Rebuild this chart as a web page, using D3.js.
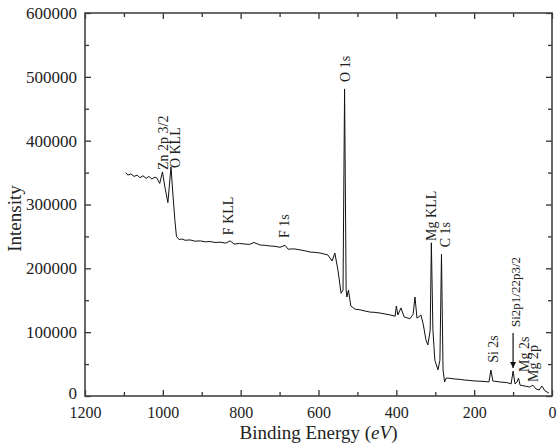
<!DOCTYPE html>
<html>
<head>
<meta charset="utf-8">
<script src="https://cdn.jsdelivr.net/npm/d3@7"></script>
<style>
  body { margin: 0; background: #fff; }
  svg text { font-family: "Liberation Serif", "Times New Roman", serif; fill: #222; }
</style>
</head>
<body>
<script>
// chart size
var w = 557;
var h = 447;
var margin = {top: 13, right: 5, bottom: 51, left: 85};

// spectrum (binding energy in eV, counts)
var energy = [1095, 1090, 1082, 1074, 1066, 1059, 1051, 1043, 1036, 1028, 1020, 1015, 1008, 1001, 994, 987, 979, 974, 969, 965,
  958, 951, 943, 930, 917, 904, 891, 879, 866, 853, 838, 827, 817, 803, 789, 777, 766, 750, 737, 725, 712, 699, 686, 678,
  663, 648, 635, 622, 609, 596, 576, 565, 558, 550, 542, 537, 533, 529, 527, 523, 517, 506, 493, 480, 468, 455, 442, 429,
  416, 403, 400, 396, 388, 380, 365, 357, 352, 347, 342, 337, 331, 324, 319, 313, 310, 306, 301, 293, 288, 284, 280, 276,
  272, 267, 249, 236, 224, 211, 198, 185, 172, 162, 157, 152, 134, 116, 105, 100, 95, 90, 86, 82, 69, 57, 49, 41, 33, 26, 18, 8];
var intensity = [350000, 346000, 348000, 344000, 346000, 342000, 345000, 341000, 344000, 340000, 343000, 341000, 333000, 351000, 325000, 303000, 359000, 315000, 275000, 250000,
  245000, 246000, 244000, 244500, 242500, 243000, 241500, 242000, 240500, 241000, 239500, 243000, 238000, 239000, 238000, 237500, 240500, 236500, 236000, 235000, 234500, 233000, 236000, 230000,
  230500, 229000, 227500, 225500, 225000, 224000, 221000, 211500, 224000, 197000, 161000, 166000, 481000, 166000, 155000, 166000, 141000, 136000, 135000, 133000, 131500, 131000, 130000, 128500,
  127000, 125000, 141000, 127000, 138000, 124000, 121000, 128000, 155000, 122000, 124000, 127000, 113000, 88000, 80000, 103000, 240000, 103000, 56000, 41000, 56000, 222000, 41000, 22000,
  28000, 28000, 26600, 26000, 25000, 24300, 23500, 23200, 22700, 22000, 40700, 23500, 22000, 21000, 19000, 39000, 19000, 22000, 28000, 17000, 15500, 14000, 17000, 11000, 9400, 15500, 8000, 4700];

// peak labels: text, energy of the label, intensity where the label starts
var labelText = ["Zn 2p 3/2", "O KLL", "F KLL", "F 1s", "O 1s", "Mg KLL", "C 1s", "Si 2s", "Si2p1/22p3/2", "Mg 2s", "Mg 2p"];
var labelEnergy = [1000, 969, 833, 689, 532, 311, 275, 152, 95, 72, 49];
var labelIntensity = [354000, 357000, 252000, 247500, 492000, 243000, 233000, 52000, 108000, 37600, 22000];

// arrow under the Si 2p label: energy, from, to
var arrowEnergy = 100;
var arrowFrom = 98700;
var arrowTo = 43900;

var xTicks = [1200, 1000, 800, 600, 400, 200, 0];
var yTicks = [0, 100000, 200000, 300000, 400000, 500000, 600000];

var dataset = energy.map(function(e, i) { return {e: e, v: intensity[i]}; });

var xScale = d3.scaleLinear().domain([1200, 0]).range([margin.left, w - margin.right]);
var yScale = d3.scaleLinear().domain([0, 600000]).range([h - margin.bottom, margin.top]);

var svg = d3.select("body").append("svg")
    .attr("width", w)
    .attr("height", h);

var defs = svg.append("defs");
defs.append("marker")
    .attr("id", "head")
    .attr("viewBox", "0 0 10 10")
    .attr("refX", 10).attr("refY", 5)
    .attr("markerWidth", 6).attr("markerHeight", 8)
    .attr("markerUnits", "userSpaceOnUse")
    .attr("orient", "auto")
  .append("path")
    .attr("d", "M0,0L10,5L0,10z")
    .attr("fill", "#111");

// minor + major ticks, all pointing inward
function axisStyle(size) {
  return function(g) {
    g.select(".domain").remove();
    g.selectAll(".tick line").attr("stroke", "#333").attr("stroke-width", 1.3);
    g.selectAll(".tick text").attr("font-size", size).attr("fill", "#222");
  };
}

var xMinor = d3.range(1100, 0, -200);
var yMinor = d3.range(50000, 600000, 100000);

// bottom
svg.append("g").attr("transform", "translate(0," + (h - margin.bottom) + ")")
    .call(d3.axisBottom(xScale).tickValues(xTicks).tickSize(-6).tickPadding(11).tickFormat(d3.format("d")))
    .call(axisStyle(16));
svg.append("g").attr("transform", "translate(0," + (h - margin.bottom) + ")")
    .call(d3.axisBottom(xScale).tickValues(xMinor).tickSize(-4).tickFormat(""))
    .call(axisStyle(16));
// top
svg.append("g").attr("transform", "translate(0," + margin.top + ")")
    .call(d3.axisTop(xScale).tickValues(xTicks).tickSize(-6).tickFormat(""))
    .call(axisStyle(16));
svg.append("g").attr("transform", "translate(0," + margin.top + ")")
    .call(d3.axisTop(xScale).tickValues(xMinor).tickSize(-4).tickFormat(""))
    .call(axisStyle(16));
// left
svg.append("g").attr("transform", "translate(" + margin.left + ",0)")
    .call(d3.axisLeft(yScale).tickValues(yTicks).tickSize(-6).tickPadding(8).tickFormat(d3.format("d")))
    .call(axisStyle(17));
svg.append("g").attr("transform", "translate(" + margin.left + ",0)")
    .call(d3.axisLeft(yScale).tickValues(yMinor).tickSize(-4).tickFormat(""))
    .call(axisStyle(17));
// right
svg.append("g").attr("transform", "translate(" + (w - margin.right) + ",0)")
    .call(d3.axisRight(yScale).tickValues(yTicks).tickSize(-6).tickFormat(""))
    .call(axisStyle(17));
svg.append("g").attr("transform", "translate(" + (w - margin.right) + ",0)")
    .call(d3.axisRight(yScale).tickValues(yMinor).tickSize(-4).tickFormat(""))
    .call(axisStyle(17));

// the "0" on the y axis sits a little higher so it clears the 1200 below it
svg.selectAll("g text").filter(function() { return this.textContent === "0" && this.getAttribute("x") < 0; })
    .attr("dy", "0.15em");

// frame
svg.append("rect")
    .attr("x", margin.left).attr("y", margin.top)
    .attr("width", w - margin.left - margin.right)
    .attr("height", h - margin.top - margin.bottom)
    .attr("fill", "none").attr("stroke", "#444").attr("stroke-width", 1.6);

// spectrum
var line = d3.line()
    .x(function(d) { return xScale(d.e); })
    .y(function(d) { return yScale(d.v); });

svg.append("path")
    .datum(dataset)
    .attr("d", line)
    .attr("fill", "none")
    .attr("stroke", "#111")
    .attr("stroke-width", 1)
    .attr("stroke-linejoin", "round");

// peak labels
labelText.forEach(function(t, i) {
  svg.append("text")
      .attr("transform", "translate(" + xScale(labelEnergy[i]) + "," + yScale(labelIntensity[i]) + ") rotate(-90)")
      .attr("dy", "0.35em")
      .attr("font-size", t.length > 10 ? 13 : 14)
      .text(t);
});

svg.append("line")
    .attr("x1", xScale(arrowEnergy)).attr("x2", xScale(arrowEnergy))
    .attr("y1", yScale(arrowFrom)).attr("y2", yScale(arrowTo))
    .attr("stroke", "#111").attr("stroke-width", 1.2)
    .attr("marker-end", "url(#head)");

// axis titles
var xt = svg.append("text")
    .attr("x", (margin.left + w - margin.right) / 2)
    .attr("y", 439)
    .attr("text-anchor", "middle")
    .attr("font-size", 19);
xt.append("tspan").text("Binding Energy (");
xt.append("tspan").attr("font-style", "italic").text("eV");
xt.append("tspan").text(")");

svg.append("text")
    .attr("transform", "translate(21," + ((margin.top + h - margin.bottom) / 2 + 14) + ") rotate(-90)")
    .attr("text-anchor", "middle")
    .attr("font-size", 19)
    .text("Intensity");
</script>
</body>
</html>
